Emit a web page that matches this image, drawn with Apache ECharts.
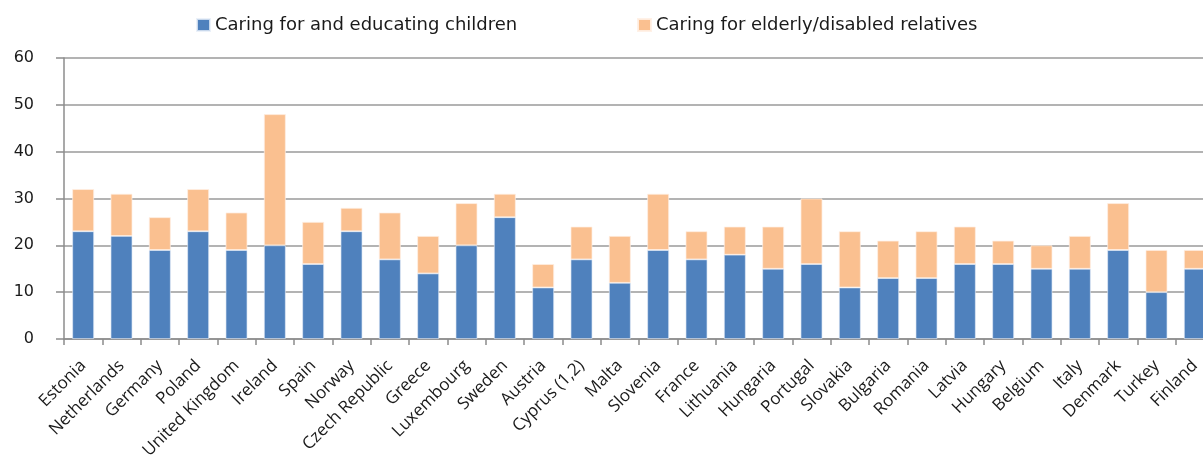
<!DOCTYPE html>
<html>
<head>
<meta charset="utf-8">
<script src="https://cdn.jsdelivr.net/npm/echarts@6/dist/echarts.min.js"></script>
<style>
  html, body { margin: 0; padding: 0; background: #fff; }
  #chart { width: 1203px; height: 457px; }
</style>
</head>
<body>
<div id="chart"></div>
<script>
// Countries along the x axis
const countries = [
  'Estonia', 'Netherlands', 'Germany', 'Poland', 'United Kingdom', 'Ireland',
  'Spain', 'Norway', 'Czech Republic', 'Greece', 'Luxembourg', 'Sweden',
  'Austria', 'Cyprus (1,2)', 'Malta', 'Slovenia', 'France', 'Lithuania',
  'Hungaria', 'Portugal', 'Slovakia', 'Bulgaria', 'Romania', 'Latvia',
  'Hungary', 'Belgium', 'Italy', 'Denmark', 'Turkey', 'Finland'
];

// Share caring for and educating children
const childrenCare = [
  23, 22, 19, 23, 19, 20, 16, 23, 17, 14, 20, 26, 11, 17, 12,
  19, 17, 18, 15, 16, 11, 13, 13, 16, 16, 15, 15, 19, 10, 15
];

// Share caring for elderly/disabled relatives (stacked on top)
const elderlyCare = [
  9, 9, 7, 9, 8, 28, 9, 5, 10, 8, 9, 5, 5, 7, 10,
  12, 6, 6, 9, 14, 12, 8, 10, 8, 5, 5, 7, 10, 9, 4
];

// Value axis ticks
const yTicks = [0, 10, 20, 30, 40, 50, 60];

const seriesNames = ['Caring for and educating children', 'Caring for elderly/disabled relatives'];
const colors = ['#4F81BD', '#FAC090'];

const chart = echarts.init(document.getElementById('chart'), null, { renderer: 'canvas' });

const legendText = { color: '#1a1a1a', fontFamily: 'DejaVu Sans', fontSize: 18 };

chart.setOption({
  animation: false,
  backgroundColor: '#ffffff',
  legend: [
    {
      data: [seriesNames[0]], left: 196, top: 16, padding: 0,
      itemWidth: 13, itemHeight: 12, itemGap: 8,
      icon: 'rect', textStyle: legendText
    },
    {
      data: [seriesNames[1]], left: 637, top: 16, padding: 0,
      itemWidth: 13, itemHeight: 12, itemGap: 8,
      icon: 'rect', textStyle: legendText
    }
  ],
  // the plot area runs slightly past the right edge, so the last bar is cut
  grid: { left: 64, top: 58, right: -11, bottom: 118, containLabel: false, outerBoundsMode: 'none' },
  xAxis: {
    type: 'category',
    data: countries,
    axisLine: { lineStyle: { color: '#8c8c8c', width: 1.5 } },
    axisTick: { show: true, alignWithLabel: false, length: 6, lineStyle: { color: '#8c8c8c', width: 1.5 } },
    axisLabel: {
      interval: 0, rotate: 45, margin: 24,
      color: '#1a1a1a', fontFamily: 'Open Sans', fontSize: 17
    }
  },
  yAxis: {
    type: 'value',
    min: yTicks[0], max: yTicks[yTicks.length - 1], interval: 10,
    axisLine: { show: true, lineStyle: { color: '#8c8c8c', width: 1.5 } },
    axisTick: { show: true, length: 8, lineStyle: { color: '#8c8c8c', width: 1.5 } },
    splitLine: { lineStyle: { color: '#9a9a9a', width: 1.5 } },
    axisLabel: {
      margin: 30, color: '#1a1a1a', fontFamily: 'DejaVu Sans', fontSize: 16
    }
  },
  series: [
    {
      name: seriesNames[0], type: 'bar', stack: 'care', barWidth: '57%',
      data: childrenCare,
      itemStyle: { color: colors[0], borderColor: 'rgba(230,238,248,0.8)', borderWidth: 0.8 }
    },
    {
      name: seriesNames[1], type: 'bar', stack: 'care', barWidth: '57%',
      data: elderlyCare,
      itemStyle: { color: colors[1], borderColor: 'rgba(255,240,228,0.9)', borderWidth: 0.8 }
    }
  ]
});
</script>
</body>
</html>
